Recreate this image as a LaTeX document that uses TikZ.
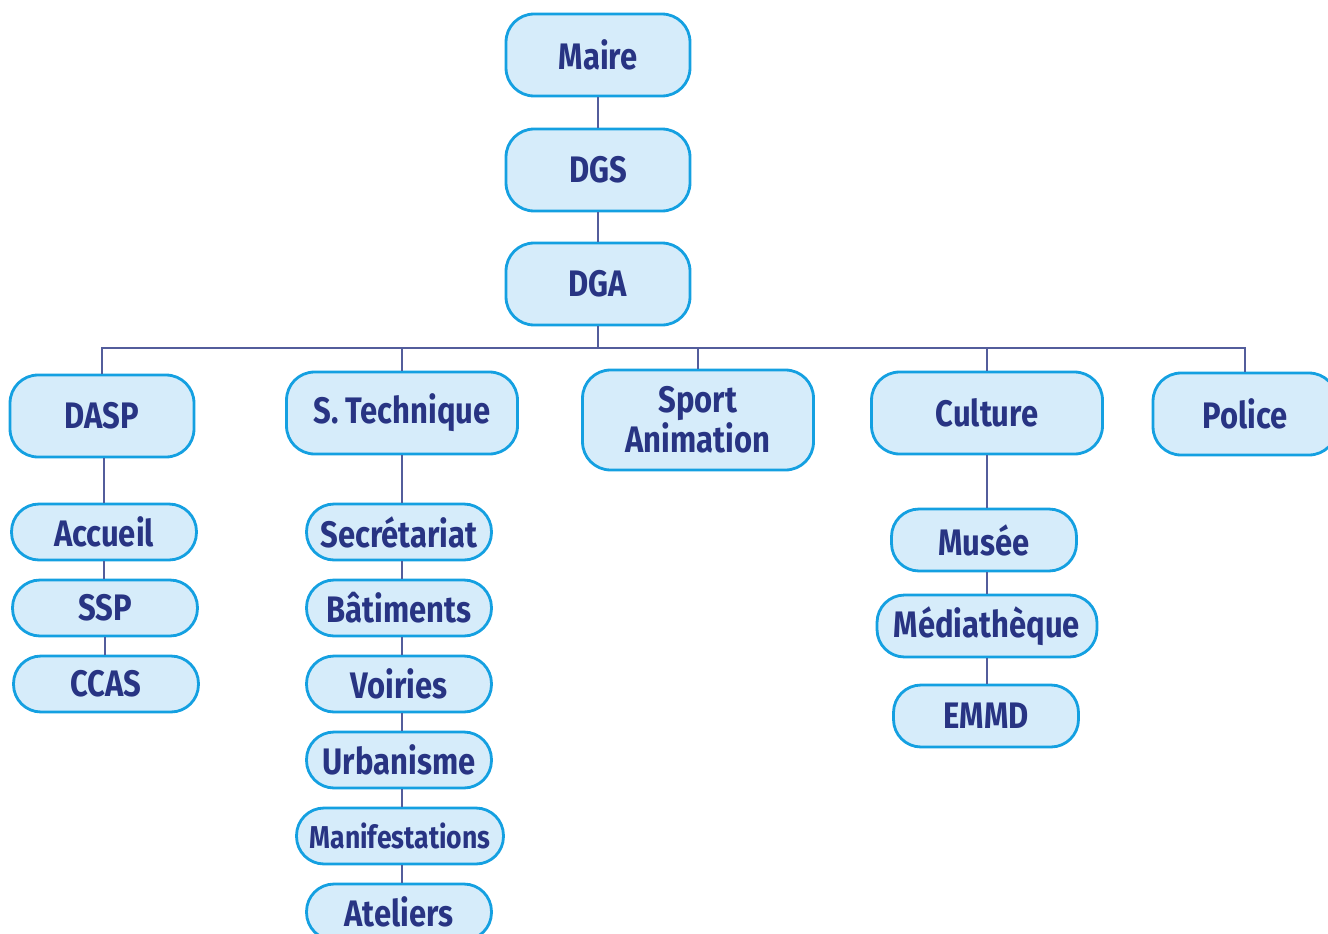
\documentclass[tikz,border=0pt]{standalone}
\usepackage{fontspec}
\setmainfont{Fira Sans}[FakeStretch=0.84]
\usepackage{tikz}
\definecolor{navy}{RGB}{40,52,131}
\definecolor{cadre}{RGB}{20,160,225}
\definecolor{fond}{RGB}{214,236,250}
\tikzset{unit/.style={draw=cadre,fill=fond,line width=1.6pt,rounded corners=0.56cm,
		text=navy,font=\bfseries\fontsize{21}{23}\selectfont,align=center,
		minimum width=3.68cm,minimum height=1.64cm,inner sep=0pt},
	wide/.style={minimum width=4.62cm},
	sub/.style={unit,rounded corners=0.55cm,minimum height=1.12cm,minimum width=3.7cm},
	link/.style={draw=navy!80,line width=0.7pt}}

\begin{document}
\begin{tikzpicture}[x=0.02cm,y=-0.02cm]
		\useasboundingbox (0,0) rectangle (1328,933);
		% direction
		\node[unit] (maire) at (598,55) {Maire};
		\node[unit] (dgs) at (598,170) {DGS};
		\node[unit] (dga) at (598,284) {DGA};
		\coordinate (bus) at (598,348);
		% services
		\node[unit] (dasp) at (102,416) {DASP};
		\node[unit,wide] (tech) at (402,413) {S. Technique};
		\node[unit,wide,minimum height=2cm] (sport) at (698,420) {Sport\\Animation};
		\node[unit,wide] (culture) at (987,413) {Culture};
		\node[unit] (police) at (1245,414) {Police};
		% DASP
		\node[sub] (accueil) at (104,532) {Accueil};
		\node[sub] (ssp) at (105,608) {SSP};
		\node[sub] (ccas) at (106,684) {CCAS};
		% technique
		\node[sub] (secret) at (399,532) {Secrétariat};
		\node[sub] (bat) at (399,608) {Bâtiments};
		\node[sub] (voiries) at (399,684) {Voiries};
		\node[sub] (urba) at (399,760) {Urbanisme};
		\node[sub,minimum width=4.14cm,font=\bfseries\fontsize{18}{20}\selectfont] (manif) at (400,836) {Manifestations};
		\node[sub] (ateliers) at (399,912) {Ateliers};
		% culture
		\node[sub,minimum height=1.24cm] (musee) at (984,540) {Musée};
		\node[sub,minimum height=1.24cm,minimum width=4.4cm] (media) at (987,626) {Médiathèque};
		\node[sub,minimum height=1.24cm] (emmd) at (986,716) {EMMD};
		% liaisons
		\begin{scope}[every path/.style={link}]
			\path (maire) edge (dgs);
			\path (dgs) edge (dga);
			\draw (dga) -- (bus);
			\draw (dasp.north) |- (bus) -| (police.north);
			\draw (tech.north) -- (tech.north |- bus);
			\draw (sport.north) -- (sport.north |- bus);
			\draw (culture.north) -- (culture.north |- bus);
			\draw (dasp.south -| accueil) -- (accueil.north);
			\draw (accueil.south -| accueil) -- (ssp.north -| accueil);
			\draw (ssp.south -| ssp) -- (ccas.north -| ssp);
			% colonne technique
			\draw (tech.south) -- (tech.south |- secret.north);
			\draw (secret.south -| tech) -- (bat.north -| tech);
			\draw (bat.south -| tech) -- (voiries.north -| tech);
			\draw (voiries.south -| tech) -- (urba.north -| tech);
			\draw (urba.south -| tech) -- (manif.north -| tech);
			\draw (manif.south -| tech) -- (ateliers.north -| tech);
			% colonne culture
			\draw (culture.south) -- (culture.south |- musee.north);
			\draw (musee.south -| culture) -- (media.north -| culture);
			\draw (media.south -| culture) -- (emmd.north -| culture);
		\end{scope}
	\end{tikzpicture}
\end{document}
